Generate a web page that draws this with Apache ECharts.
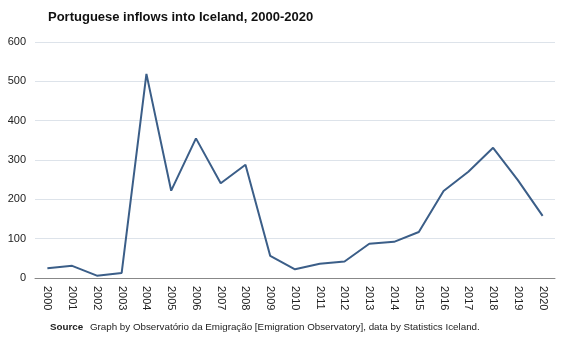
<!DOCTYPE html>
<html>
<head>
<meta charset="utf-8">
<script src="https://cdn.jsdelivr.net/npm/echarts@6/dist/echarts.min.js"></script>
<style>
  html, body { margin: 0; padding: 0; background: #fff; }
  #chart { width: 567px; height: 340px; }
</style>
</head>
<body>
<div id="chart"></div>
<script>
// inflows per year
var years = ['2000','2001','2002','2003','2004','2005','2006','2007','2008','2009','2010',
             '2011','2012','2013','2014','2015','2016','2017','2018','2019','2020'];
var inflows = [25, 31, 6, 13, 519, 222, 355, 241, 288, 56, 22,
               36, 42, 87, 92, 117, 221, 270, 331, 249, 158];
var yTicks = [0, 100, 200, 300, 400, 500, 600];

var chart = echarts.init(document.getElementById('chart'));
chart.setOption({
  animation: false,
  textStyle: { fontFamily: 'Liberation Sans, Arial, sans-serif' },
  title: {
    text: 'Portuguese inflows into Iceland, 2000-2020',
    left: 43, top: 6,
    textStyle: { fontSize: 13, fontWeight: 'bold', color: '#111' }
  },
  graphic: [{
    type: 'text', left: 50, top: 321,
    style: {
      rich: {
        b: { fontWeight: 'bold', fontSize: 9.8, fill: '#222', fontFamily: 'Liberation Sans, Arial' },
        n: { fontSize: 9.8, fill: '#222', fontFamily: 'Liberation Sans, Arial' }
      },
      text: '{b|Source}  {n|Graph by Observatório da Emigração [Emigration Observatory], data by Statistics Iceland.}'
    }
  }],
  grid: { left: 35, right: 12, top: 42, bottom: 62 },
  xAxis: {
    type: 'category',
    data: years,
    boundaryGap: true,
    axisLine: { lineStyle: { color: '#888', width: 1 } },
    axisTick: { show: false },
    axisLabel: { rotate: -90, color: '#222', fontSize: 11, margin: 8, interval: 0 }
  },
  yAxis: {
    type: 'value',
    min: yTicks[0], max: yTicks[yTicks.length - 1], interval: 100,
    axisLine: { show: false },
    axisTick: { show: false },
    splitLine: { lineStyle: { color: '#dde3ea', width: 1 } },
    axisLabel: { color: '#222', fontSize: 11, margin: 9 }
  },
  series: [{
    type: 'line',
    data: inflows,
    symbol: 'none',
    lineStyle: { color: '#3b5e88', width: 2 }
  }]
});
</script>
</body>
</html>
